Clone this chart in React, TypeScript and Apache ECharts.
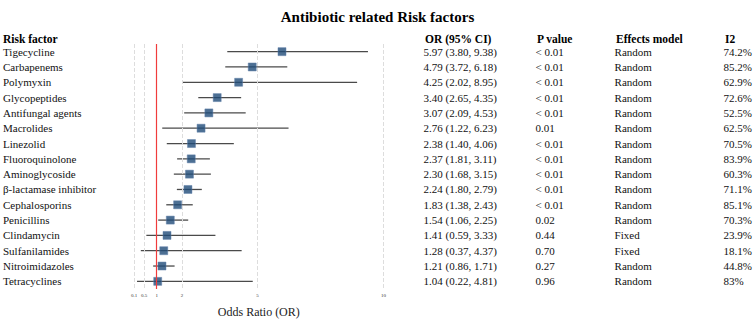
import React, { useEffect, useRef } from "react";
import * as echarts from "echarts";

const factors = [
  "Tigecycline", "Carbapenems", "Polymyxin", "Glycopeptides", "Antifungal agents",
  "Macrolides", "Linezolid", "Fluoroquinolone", "Aminoglycoside", "β-lactamase inhibitor",
  "Cephalosporins", "Penicillins", "Clindamycin", "Sulfanilamides", "Nitroimidazoles", "Tetracyclines",
];
const orValues = [5.97, 4.79, 4.25, 3.40, 3.07, 2.76, 2.38, 2.37, 2.30, 2.24, 1.83, 1.54, 1.41, 1.28, 1.21, 1.04];
const ciLow = [3.80, 3.72, 2.02, 2.65, 2.09, 1.22, 1.40, 1.81, 1.68, 1.80, 1.38, 1.06, 0.59, 0.37, 0.86, 0.22];
const ciHigh = [9.38, 6.18, 8.95, 4.35, 4.53, 6.23, 4.06, 3.11, 3.15, 2.79, 2.43, 2.25, 3.33, 4.37, 1.71, 4.81];
const pValues = [
  "< 0.01", "< 0.01", "< 0.01", "< 0.01", "< 0.01", "0.01", "< 0.01", "< 0.01",
  "< 0.01", "< 0.01", "< 0.01", "0.02", "0.44", "0.70", "0.27", "0.96",
];
const models = [
  "Random", "Random", "Random", "Random", "Random", "Random", "Random", "Random",
  "Random", "Random", "Random", "Random", "Fixed", "Fixed", "Random", "Random",
];
const i2Values = [
  "74.2%", "85.2%", "62.9%", "72.6%", "52.5%", "62.5%", "70.5%", "83.9%",
  "60.3%", "71.1%", "85.1%", "70.3%", "23.9%", "18.1%", "44.8%", "83%",
];
const xTicks = [0.1, 0.5, 1, 2, 5, 10];
const gridValues = [0.1, 0.5, 2, 5, 10];
const refValue = 1;

const FONT = "Liberation Serif";

export default function App() {
  const ref = useRef<HTMLDivElement>(null);
  useEffect(() => {
    document.body.style.margin = "0";
    if (!ref.current) return;
    const chart = echarts.init(ref.current, null, { renderer: "svg" });
    const orText = orValues.map(
      (v, i) => `${v.toFixed(2)} (${ciLow[i].toFixed(2)}, ${ciHigh[i].toFixed(2)})`
    );
    const rightAxis = (data: string[], margin: number) => ({
      type: "category",
      gridIndex: 0,
      position: "right",
      inverse: true,
      data,
      axisLine: { show: false },
      axisTick: { show: false },
      splitLine: { show: false },
      axisLabel: {
        margin,
        align: "left",
        fontSize: 11,
        color: "#111",
        fontFamily: FONT,
      },
    });
    const header = (text: string, x: number) => ({
      type: "text",
      left: x,
      top: 33,
      style: { text, fontSize: 11.5, fontWeight: "bold", fill: "#000", fontFamily: FONT },
    });
    chart.setOption({
      animation: false,
      title: {
        text: "Antibiotic related Risk factors",
        left: "center",
        top: 4,
        textStyle: { fontSize: 15, fontWeight: "bold", color: "#000", fontFamily: FONT },
      },
      grid: { left: 134, right: 370, top: 44, bottom: 27, containLabel: false },
      xAxis: {
        type: "value",
        min: 0.1,
        max: 10,
        name: "Odds Ratio (OR)",
        nameLocation: "middle",
        nameGap: 17,
        nameTextStyle: { fontSize: 12, color: "#222", fontFamily: FONT },
        axisLine: { lineStyle: { color: "#999", width: 1.5 } },
        axisTick: { customValues: xTicks, length: 3, lineStyle: { color: "#444" } },
        axisLabel: { customValues: xTicks, fontSize: 5, color: "#333", margin: 4, fontFamily: FONT },
        splitLine: { show: false },
      },
      yAxis: [
        {
          type: "category",
          gridIndex: 0,
          inverse: true,
          data: factors,
          axisLine: { show: false },
          axisTick: { show: false },
          splitLine: { show: false },
          axisLabel: { margin: 131, align: "left", fontSize: 11, color: "#111", fontFamily: FONT },
        },
        rightAxis(orText, 40),
        rightAxis(pValues, 152),
        rightAxis(models, 231),
        rightAxis(i2Values, 340),
      ],
      graphic: [
        header("Risk factor", 3),
        header("OR (95% CI)", 425),
        header("P value", 537),
        header("Effects model", 616),
        header("I2", 725),
      ],
      series: [
        {
          type: "scatter",
          data: [],
          z: 1,
          silent: true,
          markLine: {
            silent: true,
            symbol: "none",
            label: { show: false },
            data: [
              ...gridValues.map((v) => ({
                xAxis: v,
                lineStyle: { color: "#ddd", type: "dashed", width: 1 },
              })),
              { xAxis: refValue, lineStyle: { color: "#f03c3c", type: "solid", width: 1.2 } },
            ],
          },
        },
        {
          type: "custom",
          z: 2,
          data: factors.map((f, i) => [ciLow[i], ciHigh[i], i]),
          encode: { x: [0, 1], y: 2 },
          renderItem: (params: any, api: any) => {
            const a = api.coord([api.value(0), api.value(2)]);
            const b = api.coord([api.value(1), api.value(2)]);
            return {
              type: "line",
              shape: { x1: a[0], y1: a[1], x2: b[0], y2: b[1] },
              style: { stroke: "#4a4a4a", lineWidth: 1.3 },
            };
          },
        },
        {
          type: "scatter",
          z: 3,
          symbol: "rect",
          symbolSize: 8,
          data: orValues.map((v, i) => [v, i]),
          itemStyle: { color: "#1f4b78", borderColor: "#5f7fa8", borderWidth: 0.6 },
        },
      ],
    });
    return () => chart.dispose();
  }, []);
  return <div ref={ref} style={{ width: 755, height: 323 }} />;
}
